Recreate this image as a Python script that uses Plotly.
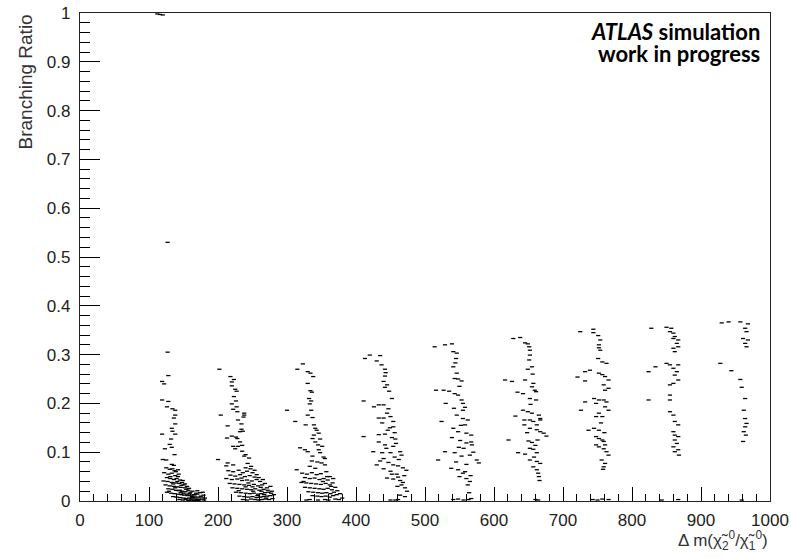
import plotly.graph_objects as go

# ---- data: (delta m, branching ratio), per mass band ----
top_points = [(112, 0.998), (116, 0.997), (120, 0.996), (127, 0.53)]

band_120 = [(127,0.305),(128,0.257),(119,0.245),(122,0.240),(119,0.207),(128,0.204),(126,0.193),(134,0.189),
            (138,0.186),(138,0.176),(136,0.170),(138,0.158),(133,0.149),(134,0.143),(138,0.137),(119,0.137),
            (132,0.127),(130,0.116),(133,0.110),(123,0.107),(137,0.095),(120,0.085),(125,0.084),(133,0.075),
            (136,0.073),(125,0.068),(130,0.065),(137,0.062),
            (122,0.058),(128,0.055),(133,0.057),(138,0.052),(142,0.050),(126,0.048),(131,0.046),(136,0.044),
            (140,0.046),(145,0.043),(121,0.041),(127,0.040),(133,0.038),(139,0.037),(144,0.036),(148,0.038),
            (150,0.033),(124,0.033),(130,0.031),(136,0.030),(141,0.029),(146,0.028),(152,0.027),(155,0.030),
            (128,0.025),(134,0.024),(139,0.022),(143,0.021),(148,0.020),(153,0.019),(157,0.022),(160,0.018),
            (126,0.018),(132,0.016),(137,0.015),(142,0.014),(147,0.013),(151,0.012),(156,0.011),(161,0.012),
            (165,0.013),(170,0.014),(135,0.009),(140,0.008),(145,0.007),(150,0.006),(154,0.005),(158,0.006),
            (163,0.004),(167,0.006),(171,0.008),(175,0.010),(179,0.012),(144,0.003),(149,0.002),(153,0.003),
            (157,0.001),(161,0.002),(165,0.001),(169,0.003),(173,0.002),(177,0.004),(181,0.006),(162,0.009),
            (166,0.010),(172,0.004),(168,0.016),(174,0.017),(178,0.018),(159,0.015),(146,0.017),(131,0.050),
            (139,0.060),(143,0.055),(149,0.042),(135,0.035),(152,0.035),(158,0.026),(129,0.020),
            (141,0.040),(147,0.032),(154,0.024),(163,0.020),(170,0.021),(176,0.008),(164,0.007),(155,0.014),
            (138,0.027),(145,0.022),(150,0.016),(160,0.004),(171,0.001),(180,0.002),(142,0.064),(134,0.066)]

band_220 = [(202,0.270),(218,0.255),(223,0.249),(220,0.244),(220,0.236),(225,0.229),(227,0.225),(223,0.214),
            (226,0.205),(220,0.199),(227,0.193),(222,0.188),(228,0.183),(238,0.180),(204,0.176),(238,0.176),
            (237,0.172),(229,0.166),(234,0.158),(214,0.154),(234,0.147),(236,0.143),(232,0.142),(220,0.133),
            (226,0.131),(213,0.129),(228,0.128),(232,0.121),(235,0.114),(229,0.112),(222,0.112),(225,0.107),
            (235,0.102),(240,0.095),(214,0.078),(222,0.074),(212,0.072),(243,0.077),(248,0.071),(240,0.068),
            (200,0.085),(245,0.088),(238,0.092),
            (215,0.062),(222,0.060),(230,0.063),(236,0.058),(242,0.061),(250,0.058),(218,0.053),(225,0.051),
            (232,0.054),(239,0.050),(246,0.052),(253,0.049),(212,0.046),(220,0.044),(228,0.045),(235,0.042),
            (242,0.043),(249,0.041),(256,0.044),(261,0.040),(217,0.036),(224,0.035),(231,0.034),(238,0.033),
            (245,0.032),(252,0.034),(258,0.031),(264,0.033),(268,0.036),(221,0.027),(228,0.026),(235,0.025),
            (242,0.024),(248,0.023),(254,0.025),(260,0.022),(266,0.024),(271,0.027),(276,0.030),(226,0.018),
            (233,0.017),(240,0.016),(246,0.015),(252,0.016),(258,0.014),(263,0.015),(268,0.017),(273,0.018),
            (278,0.020),(231,0.010),(238,0.009),(244,0.008),(250,0.009),(256,0.007),(261,0.008),(266,0.009),
            (271,0.010),(276,0.011),(281,0.013),(236,0.003),(242,0.002),(248,0.004),(254,0.003),(259,0.002),
            (264,0.003),(269,0.004),(274,0.003),(279,0.005),(251,0.020),(262,0.028),(244,0.037),(234,0.047),
            (256,0.054),(270,0.006),(247,0.066),(253,0.063),(259,0.048),(265,0.044),(263,0.020),(257,0.011),
            (267,0.013),(250,0.029),(240,0.029),(230,0.021),(272,0.022),(277,0.016)]

band_320 = [(323,0.281),(315,0.270),(330,0.265),(334,0.262),(338,0.255),(330,0.241),(334,0.226),(336,0.223),
            (332,0.210),(335,0.205),(300,0.186),(333,0.199),(335,0.186),(330,0.176),(337,0.171),(312,0.163),
            (327,0.156),(339,0.156),(341,0.149),(343,0.145),(346,0.139),(348,0.127),(337,0.128),(341,0.121),
            (319,0.109),(326,0.105),(330,0.101),(346,0.105),(348,0.099),(337,0.092),(353,0.090),(355,0.087),
            (314,0.064),(333,0.071),(341,0.067),(355,0.074),(357,0.060),(362,0.050),(367,0.046),(324,0.040),
            (345,0.115),(351,0.112),(339,0.135),(344,0.080),(350,0.078),(336,0.082),
            (322,0.057),(329,0.055),(336,0.058),(343,0.054),(349,0.056),(326,0.048),(333,0.046),(340,0.047),
            (347,0.044),(353,0.046),(359,0.043),(321,0.038),(328,0.037),(335,0.036),(342,0.035),(349,0.034),
            (356,0.036),(362,0.033),(366,0.037),(326,0.028),(333,0.027),(340,0.026),(347,0.025),(353,0.024),
            (359,0.026),(365,0.023),(370,0.028),(331,0.019),(338,0.018),(345,0.017),(351,0.016),(357,0.017),
            (363,0.015),(368,0.018),(373,0.021),(337,0.011),(344,0.010),(350,0.009),(356,0.010),(362,0.008),
            (367,0.011),(372,0.013),(377,0.015),(355,0.003),(360,0.002),(345,0.002),(370,0.004),(375,0.003),
            (380,0.006),(352,0.040),(358,0.050),(364,0.030),(328,0.002),(333,0.003)]

band_430 = [(413,0.292),(420,0.299),(435,0.298),(430,0.287),(437,0.279),(442,0.270),(443,0.263),(442,0.256),
            (440,0.245),(445,0.238),(442,0.233),(411,0.205),(433,0.197),(440,0.197),(447,0.189),(426,0.193),
            (445,0.180),(450,0.173),(454,0.163),(433,0.170),(440,0.170),(454,0.152),(411,0.132),(433,0.136),
            (442,0.137),(452,0.130),(457,0.127),(433,0.121),(442,0.115),(454,0.112),(425,0.101),(438,0.099),
            (450,0.099),(464,0.101),(466,0.094),(440,0.087),(447,0.079),(430,0.074),(454,0.074),(461,0.072),
            (468,0.068),(473,0.063),(440,0.066),(450,0.061),(459,0.055),(461,0.049),(445,0.047),(454,0.045),
            (464,0.042),(466,0.033),(471,0.027),(450,0.002),(457,0.002),(461,0.003),(464,0.012),(471,0.009),
            (448,0.225),(452,0.210),(446,0.145),(458,0.118),(462,0.085),(435,0.082),(456,0.090),(470,0.052),
            (468,0.038),(474,0.020),(460,0.030),(452,0.055),(444,0.108),(449,0.150),(438,0.160),(456,0.140)]

band_530 = [(514,0.316),(529,0.320),(539,0.322),(541,0.306),(546,0.303),(545,0.292),(541,0.275),(546,0.262),
            (543,0.251),(548,0.250),(553,0.246),(516,0.227),(527,0.227),(535,0.225),(543,0.220),(548,0.217),
            (553,0.207),(555,0.200),(558,0.192),(555,0.186),(530,0.200),(546,0.176),(555,0.169),(562,0.166),
            (558,0.156),(524,0.163),(541,0.149),(548,0.142),(560,0.139),(567,0.135),(539,0.130),(551,0.124),
            (560,0.119),(567,0.121),(568,0.115),(529,0.101),(543,0.099),(553,0.092),(565,0.094),(575,0.084),
            (578,0.078),(519,0.084),(538,0.067),(548,0.064),(555,0.057),(550,0.050),(560,0.046),(565,0.040),
            (562,0.033),(564,0.017),(541,0.003),(548,0.004),(556,0.002),(563,0.003),(567,0.005),(550,0.235),
            (544,0.283),(552,0.155),(556,0.108),(560,0.075),(545,0.080),(558,0.060),(566,0.052),(549,0.110),
            (570,0.100),(542,0.190)]

band_640 = [(628,0.333),(638,0.335),(645,0.324),(649,0.322),(651,0.316),(652,0.309),(652,0.299),(651,0.289),
            (655,0.275),(649,0.270),(616,0.248),(626,0.245),(645,0.248),(657,0.241),(655,0.234),(659,0.227),
            (661,0.224),(634,0.223),(642,0.220),(652,0.210),(661,0.207),(642,0.186),(649,0.183),(655,0.180),
            (665,0.176),(667,0.169),(631,0.174),(644,0.166),(652,0.166),(657,0.163),(667,0.166),(662,0.156),
            (644,0.156),(652,0.149),(662,0.146),(667,0.142),(672,0.139),(676,0.133),(621,0.125),(650,0.123),
            (655,0.120),(660,0.114),(652,0.108),(657,0.106),(662,0.099),(635,0.099),(645,0.096),(652,0.084),
            (662,0.081),(667,0.077),(657,0.070),(662,0.064),(664,0.057),(665,0.050),(666,0.042),(660,0.003),
            (664,0.002),(653,0.198),(648,0.140),(658,0.090),(663,0.125),(656,0.260)]

band_740 = [(725,0.347),(744,0.352),(744,0.345),(751,0.339),(754,0.330),(752,0.320),(752,0.314),(754,0.309),
            (751,0.292),(757,0.285),(763,0.282),(732,0.265),(739,0.268),(752,0.262),(757,0.259),(761,0.255),
            (766,0.248),(721,0.254),(732,0.246),(759,0.238),(761,0.227),(766,0.231),(745,0.210),(752,0.207),
            (759,0.207),(763,0.203),(732,0.203),(748,0.200),(761,0.193),(766,0.186),(726,0.186),(752,0.180),
            (748,0.173),(757,0.173),(745,0.149),(752,0.145),(737,0.145),(748,0.132),(752,0.128),(757,0.125),
            (759,0.122),(761,0.115),(748,0.115),(752,0.111),(759,0.107),(763,0.101),(766,0.094),(756,0.084),
            (761,0.077),(759,0.070),(758,0.065),(743,0.003),(750,0.002),(757,0.004),(766,0.003),(755,0.160),
            (760,0.140)]

band_850 = [(828,0.354),(850,0.356),(857,0.354),(855,0.347),(860,0.344),(862,0.337),(860,0.333),(867,0.330),
            (865,0.323),(867,0.316),(860,0.313),(862,0.306),(850,0.282),(855,0.279),(867,0.279),(860,0.272),
            (865,0.265),(862,0.258),(867,0.248),(824,0.265),(834,0.275),(860,0.241),(855,0.238),(855,0.217),
            (824,0.207),(855,0.207),(855,0.183),(860,0.176),(862,0.163),(867,0.156),(860,0.142),(862,0.135),
            (867,0.132),(862,0.125),(865,0.118),(860,0.111),(867,0.105),(862,0.101),(868,0.094),(843,0.002),
            (867,0.003)]

band_950 = [(930,0.365),(940,0.367),(957,0.367),(968,0.363),(964,0.354),(966,0.347),(961,0.333),(968,0.330),
            (964,0.323),(966,0.316),(928,0.282),(944,0.267),(957,0.249),(959,0.233),(964,0.210),(962,0.186),
            (964,0.169),(966,0.159),(964,0.152),(962,0.142),(965,0.135),(961,0.122),(959,0.002)]

bands = [top_points, band_120, band_220, band_320, band_430, band_530, band_640, band_740, band_850, band_950]

x_ticks = [0, 100, 200, 300, 400, 500, 600, 700, 800, 900, 1000]
y_ticks = [0, 0.1, 0.2, 0.3, 0.4, 0.5, 0.6, 0.7, 0.8, 0.9, 1]

fig = go.Figure()
for band in bands:
    fig.add_trace(go.Scatter(
        x=[p[0] for p in band], y=[p[1] for p in band], mode="markers",
        marker=dict(symbol="line-ew", size=3, color="black",
                    line=dict(color="black", width=1.3)),
        showlegend=False, hoverinfo="skip"))

tick_font = dict(family="Liberation Sans, Arial, sans-serif", size=17, color="#222")
fig.update_xaxes(range=[0, 1000], tickvals=x_ticks, ticks="inside", ticklen=14, tickwidth=1,
                 tickcolor="black", showline=True, linecolor="#222", linewidth=1.3, mirror=True,
                 showgrid=False, zeroline=False, tickfont=tick_font, ticklabelstandoff=3,
                 automargin=False, ticklabeloverflow="allow",
                 minor=dict(dtick=20, ticks="inside", ticklen=7, tickcolor="black", tickwidth=1))
fig.update_yaxes(range=[0, 1], tickvals=y_ticks, ticks="inside", ticklen=20, tickwidth=1,
                 tickcolor="black", showline=True, linecolor="#222", linewidth=1.3, mirror=True,
                 showgrid=False, zeroline=False, tickfont=tick_font, ticklabelstandoff=5,
                 automargin=False, ticklabeloverflow="allow",
                 minor=dict(dtick=0.02, ticks="inside", ticklen=10, tickcolor="black", tickwidth=1))

fig.update_layout(
    width=791, height=558, margin=dict(l=80, r=21, t=13, b=57, autoexpand=False),
    plot_bgcolor="white", paper_bgcolor="white",
    annotations=[
        dict(text="Branching Ratio", textangle=-90, xref="paper", yref="paper", x=0, y=1.0,
             xanchor="center", yanchor="top", xshift=-55, showarrow=False,
             font=dict(family="Liberation Sans, Arial, sans-serif", size=19, color="#333")),
        dict(text="Δ m(χ̃<sub>2</sub><sup>0</sup>/χ̃<sub>1</sub><sup>0</sup>)", xref="paper", yref="paper",
             x=1, y=-0.08, xanchor="right", yanchor="middle", showarrow=False,
             font=dict(family="Liberation Sans, Arial, sans-serif", size=17, color="#333")),
        dict(text="<b><i>ATLAS</i> simulation</b>", xref="paper", yref="paper", x=0.988, y=0.963,
             xanchor="right", yanchor="middle", showarrow=False,
             font=dict(family="Lato, sans-serif", size=22, color="black")),
        dict(text="<b>work in progress</b>", xref="paper", yref="paper", x=0.988, y=0.918,
             xanchor="right", yanchor="middle", showarrow=False,
             font=dict(family="Lato, sans-serif", size=22, color="black")),
    ],
)

# remove the browser's default 8px body margin so the figure sits at the window origin
fig.write_html("out.html", config={"displayModeBar": False},
               post_script="document.body.style.margin='0px';")
